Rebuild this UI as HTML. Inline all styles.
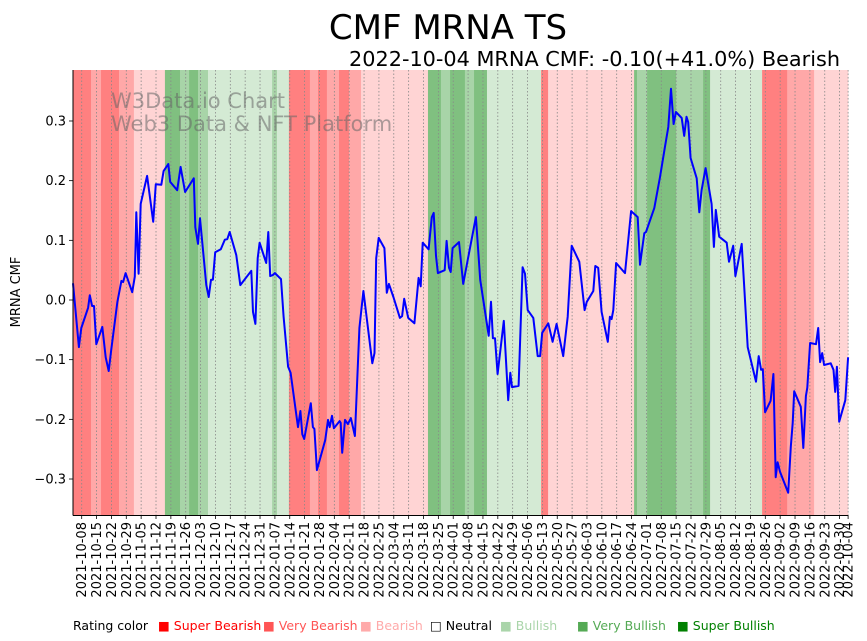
<!DOCTYPE html>
<html><head><meta charset="utf-8"><style>
html,body{margin:0;padding:0;background:#fff;width:867px;height:641px;overflow:hidden;font-family:"Liberation Sans","DejaVu Sans",sans-serif}
svg text{font-family:"DejaVu Sans","Liberation Sans",sans-serif}
</style></head><body>
<svg id="chart" width="867" height="641" viewBox="0 0 867 641" xmlns="http://www.w3.org/2000/svg">
<text x="448" y="39" font-size="34" text-anchor="middle" fill="#000">CMF MRNA TS</text>
<text x="840" y="66" font-size="20.8" text-anchor="end" fill="#000">2022-10-04 MRNA CMF: -0.10(+41.0%) Bearish</text>
<g id="bands"></g>
<g id="grid"></g>
<g fill="#666" fill-opacity="0.55" font-size="21">
<text x="111" y="108">W3Data.io Chart</text>
<text x="111" y="131">Web3 Data &amp; NFT Platform</text>
</g>
<path id="line" fill="none" stroke="#0000ff" stroke-width="2" stroke-linejoin="round"/>
<g id="yaxis"></g>
<g id="xaxis"></g>
<line x1="73" y1="70" x2="73" y2="515.5" stroke="#000" stroke-width="1"/>
<line x1="73" y1="515.5" x2="848" y2="515.5" stroke="#000" stroke-width="1"/>
<text x="20" y="292" font-size="13" text-anchor="middle" transform="rotate(-90 20 292)">MRNA CMF</text>
<g font-size="12.5">
<text x="73" y="630" fill="#000">Rating color</text>
<text x="158" y="630" fill="#ff0000">■ Super Bearish</text>
<text x="263" y="630" fill="#ff5555">■ Very Bearish</text>
<text x="360" y="630" fill="#ffaaaa">■ Bearish</text>
<text x="430" y="630" fill="#000">□ Neutral</text>
<text x="500" y="630" fill="#aad5aa">■ Bullish</text>
<text x="577" y="630" fill="#55aa55">■ Very Bullish</text>
<text x="677" y="630" fill="#008000">■ Super Bullish</text>
</g>
</svg>
<script>
// days since 2021-10-08
const days = [-4.1,-1.3,-0.2,3.0,3.8,4.9,5.8,6.9,9.7,11.3,12.7,13.9,16.8,18.7,19.5,20.7,23.8,25.0,25.7,26.8,27.8,30.8,33.7,34.9,37.5,38.6,40.8,41.7,45.0,46.6,48.7,52.8,53.5,54.8,55.7,58.7,59.8,60.9,61.8,62.9,65.5,67.4,68.6,69.7,72.8,74.7,79.9,80.7,81.8,82.9,83.8,86.9,87.9,88.8,90.1,91.0,93.9,95.1,97.2,98.4,101.9,103.0,103.9,104.8,107.9,108.9,109.6,110.8,114.7,116.0,116.8,117.9,118.8,121.5,122.0,122.7,124.0,125.4,126.8,128.7,130.8,132.7,136.9,137.9,138.7,139.9,142.6,143.7,144.7,146.8,149.9,150.9,151.9,153.8,156.7,158.7,159.7,160.6,163.4,164.9,165.8,166.9,167.8,171.0,171.9,173.0,173.8,174.7,177.7,179.7,181.8,185.7,187.7,191.7,192.8,193.7,194.7,195.9,198.8,200.9,201.9,202.7,205.8,207.7,208.8,210.1,212.7,214.8,215.9,216.9,219.8,221.8,223.7,226.8,228.9,230.8,234.4,236.9,237.9,241.0,241.9,243.3,244.9,247.8,248.8,249.6,250.4,251.7,255.9,258.8,261.9,263.0,265.0,265.8,269.7,272.4,274.7,276.3,277.6,278.8,279.9,282.6,283.8,284.9,285.7,286.8,289.7,290.9,292.0,293.9,296.7,297.8,298.7,300.3,303.8,304.9,306.9,307.9,310.9,312.1,313.7,317.6,318.9,320.0,320.8,321.9,324.5,325.8,326.9,327.8,328.9,332.8,334.0,334.9,335.6,338.7,339.9,341.1,341.8,343.1,345.9,346.9,347.8,348.8,349.7,352.8,354.1,354.9,355.7,356.8,359.7,361.0];
const cmf = [0.028,-0.079,-0.047,-0.013,0.008,-0.010,-0.010,-0.074,-0.045,-0.096,-0.119,-0.084,-0.003,0.032,0.030,0.045,0.013,0.039,0.147,0.044,0.161,0.208,0.131,0.194,0.193,0.216,0.228,0.198,0.184,0.223,0.181,0.204,0.122,0.094,0.137,0.025,0.005,0.034,0.034,0.080,0.085,0.101,0.102,0.114,0.075,0.025,0.049,-0.020,-0.040,0.070,0.096,0.062,0.114,0.040,0.042,0.045,0.035,-0.028,-0.112,-0.122,-0.213,-0.186,-0.225,-0.233,-0.173,-0.213,-0.216,-0.285,-0.235,-0.201,-0.213,-0.194,-0.215,-0.203,-0.206,-0.256,-0.201,-0.208,-0.198,-0.228,-0.047,0.015,-0.106,-0.089,0.070,0.104,0.087,0.012,0.027,0.005,-0.030,-0.027,0.002,-0.030,-0.039,0.037,0.023,0.096,0.085,0.139,0.146,0.074,0.045,0.050,0.099,0.054,0.047,0.087,0.097,0.027,0.067,0.139,0.034,-0.060,-0.003,-0.064,-0.064,-0.124,-0.035,-0.168,-0.122,-0.146,-0.144,0.055,0.044,-0.017,-0.030,-0.094,-0.094,-0.055,-0.039,-0.070,-0.040,-0.094,-0.028,0.091,0.064,-0.017,-0.003,0.015,0.057,0.054,-0.020,-0.070,-0.028,-0.032,-0.017,0.062,0.045,0.149,0.139,0.059,0.112,0.114,0.154,0.206,0.256,0.290,0.354,0.295,0.315,0.305,0.275,0.307,0.298,0.238,0.204,0.147,0.184,0.221,0.161,0.089,0.151,0.106,0.096,0.064,0.091,0.040,0.094,0.020,-0.079,-0.137,-0.094,-0.117,-0.116,-0.188,-0.169,-0.124,-0.297,-0.272,-0.288,-0.323,-0.246,-0.206,-0.153,-0.179,-0.248,-0.161,-0.147,-0.072,-0.074,-0.047,-0.104,-0.089,-0.109,-0.106,-0.117,-0.154,-0.112,-0.204,-0.168,-0.096];
// rating bands: start day, rating (-3..3)
const bandStart = [-4.1,4.4,9.1,17.6,24.6,39.2,46.3,50.6,54.8,59.5,89.7,92.0,97.6,107.5,111.3,115.5,121.2,125.9,131.6,163.1,169.2,173.5,180.5,184.8,190.9,216.4,219.7,260.2,261.6,266.3,280.0,292.7,296.0,320.5,332.3,345.0];
const bandRating = [-3,-2,-3,-2,-1,3,2,3,2,1,2,1,-3,-2,-3,-2,-3,-2,-1,3,2,3,2,3,1,-3,-1,3,2,3,2,3,1,-3,-2,-1];
const bandEnd = 361.0;
const yTicks = [-0.3,-0.2,-0.1,0.0,0.1,0.2,0.3];
const tickStartDate = "2021-10-08";
const lastDateLabel = "2022-10-04";

const NS="http://www.w3.org/2000/svg";
const X0=81.7, PXD=2.123, Y0=300, PXV=596.7, TOP=70, BOT=515;
function xs(d){return X0+d*PXD;}
function ys(v){return Y0-v*PXV;}
function mk(tag,attrs,parent){const e=document.createElementNS(NS,tag);for(const k in attrs)e.setAttribute(k,attrs[k]);parent.appendChild(e);return e;}
const colors={"-3":"#ff8080","-2":"#ffa8a8","-1":"#ffd4d4","0":"#ffffff","1":"#d4ead4","2":"#a8d4a8","3":"#80c080"};
const bg=document.getElementById('bands');
for(let i=0;i<bandStart.length;i++){
  const s=bandStart[i], e=(i+1<bandStart.length)?bandStart[i+1]:bandEnd;
  const r=mk('rect',{x:xs(s),y:TOP,width:xs(e)-xs(s)+0.3,height:BOT-TOP,fill:colors[bandRating[i]]},bg);
  
  
}
const gx=document.getElementById('grid'), xa=document.getElementById('xaxis');
const base=new Date(tickStartDate+"T00:00:00Z");
const tickDays=[], tickLabels=[];
for(let w=0;w<=51;w++){const d=new Date(base.getTime()+w*7*86400000);tickDays.push(w*7);tickLabels.push(d.toISOString().slice(0,10));}
tickDays.push(361);tickLabels.push(lastDateLabel);
tickDays.forEach((d,i)=>{
  const x=xs(d);
  const g=mk('line',{x1:x,y1:TOP,x2:x,y2:BOT,stroke:'#888','stroke-width':0.8,'stroke-dasharray':'1.5,2'},gx);
  
  
  const t=mk('line',{x1:x,y1:BOT,x2:x,y2:BOT+4,stroke:'#000','stroke-width':0.8},xa);
  
  
  const tx=mk('text',{x:x+4.5,y:BOT+7,'font-size':13,'text-anchor':'end',transform:`rotate(-90 ${x+4.5} ${BOT+7})`},xa);
  tx.textContent=tickLabels[i];
  
  
});
const ya=document.getElementById('yaxis');
yTicks.forEach(v=>{
  const y=ys(v);
  const t=mk('line',{x1:69,y1:y,x2:73,y2:y,stroke:'#000','stroke-width':0.8},ya);
  
  
  const tx=mk('text',{x:66,y:y+4.5,'font-size':13,'text-anchor':'end'},ya);
  tx.textContent=(v<0?'\u2212':'')+Math.abs(v).toFixed(1);
  
  
});
let dstr='';
days.forEach((d,i)=>{dstr+=(i?'L':'M')+xs(d).toFixed(1)+','+ys(cmf[i]).toFixed(1);});
document.getElementById('line').setAttribute('d',dstr);
</script>
</body></html>
